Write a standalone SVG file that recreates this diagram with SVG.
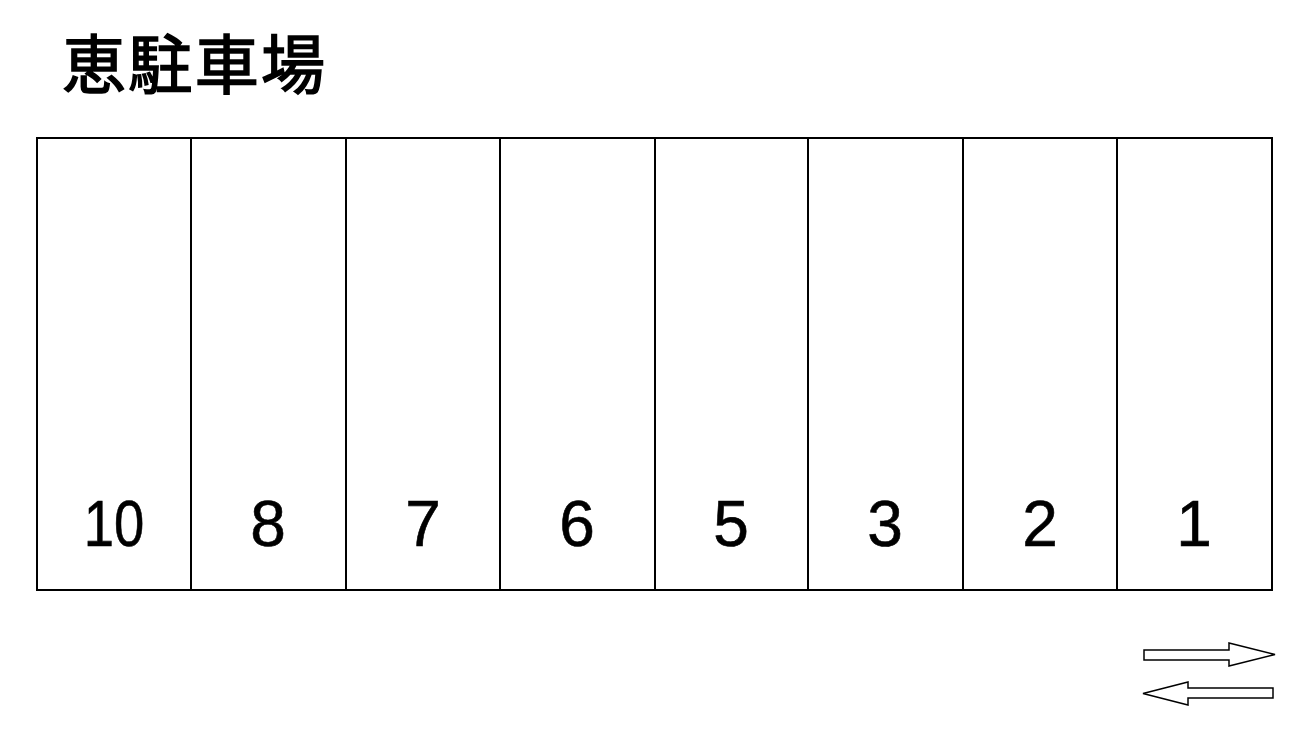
<svg xmlns="http://www.w3.org/2000/svg" width="1312" height="754" viewBox="0 0 1312 754">
<style>
.ln{stroke:#000;stroke-width:2;fill:none}
.num{font-family:"Liberation Sans",Arial,sans-serif;font-size:64px;fill:#000;text-anchor:middle;stroke:#000;stroke-width:0.6}
.arr{fill:#fff;stroke:#000;stroke-width:1.5}
</style>
<rect width="1312" height="754" fill="#fff"/>
<text id="title" x="62" y="88" font-family="'Noto Sans CJK JP','Noto Sans CJK SC',sans-serif" font-size="64" font-weight="normal" fill="#000" stroke="#000" stroke-width="1.6" textLength="263">恵駐車場</text>
<g id="lot">
<rect class="ln" x="37" y="138" width="1235" height="452"/>
<path class="ln" d="M191 138V590M346 138V590M500 138V590M655 138V590M808 138V590M963 138V590M1117 138V590"/>
</g>
<g id="s10"><text class="num" x="114" y="546" transform="translate(114 0) scale(0.85 1) translate(-114 0)">10</text></g>
<g id="s8"><text class="num" x="268" y="546">8</text></g>
<g id="s7"><text class="num" x="423" y="546">7</text></g>
<g id="s6"><text class="num" x="577" y="546">6</text></g>
<g id="s5"><text class="num" x="731" y="546">5</text></g>
<g id="s3"><text class="num" x="885" y="546">3</text></g>
<g id="s2"><text class="num" x="1040" y="546">2</text></g>
<g id="s1"><text class="num" x="1194" y="546">1</text></g>
<g id="arrows">
<polygon class="arr" points="1144,650 1229,650 1229,643 1275,654.5 1229,666 1229,660 1144,660"/>
<polygon class="arr" points="1273,688 1188,688 1188,682 1143,693.5 1188,705 1188,698 1273,698"/>
</g>
</svg>
